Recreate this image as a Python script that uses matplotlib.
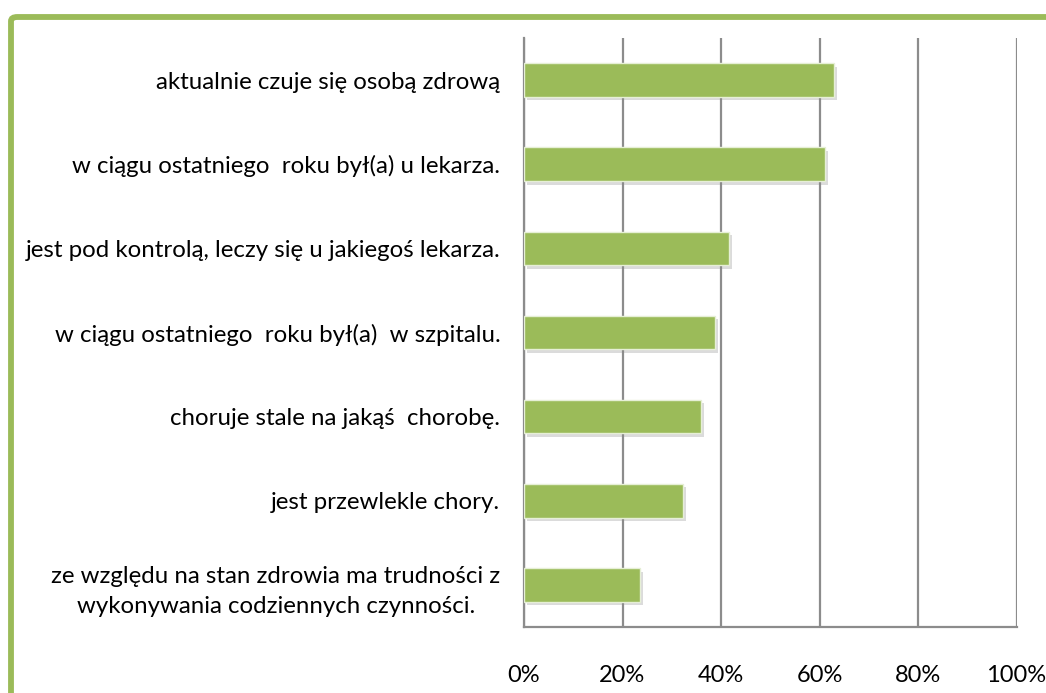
import matplotlib
matplotlib.use("Agg")
import matplotlib.pyplot as plt
from matplotlib.patches import FancyBboxPatch
import matplotlib.patheffects as pe

categories = [
    "aktualnie czuje się osobą zdrową",
    "w ciągu ostatniego  roku był(a) u lekarza.",
    "jest pod kontrolą, leczy się u jakiegoś lekarza.",
    "w ciągu ostatniego  roku był(a)  w szpitalu.",
    "choruje stale na jakąś  chorobę.",
    "jest przewlekle chory.",
    "ze względu na stan zdrowia ma trudności z\nwykonywania codziennych czynności.",
]
values = [62.9, 61.1, 41.6, 38.8, 35.9, 32.3, 23.6]
xticks = [0, 20, 40, 60, 80, 100]
xticklabels = ["0%", "20%", "40%", "60%", "80%", "100%"]

plt.rcParams['font.family'] = ['Lato', 'DejaVu Sans']

fig = plt.figure(figsize=(10.46, 6.93), dpi=100)
ax = fig.add_axes([524/1046, 1-627/693, (1016.5-524)/1046, (627-38)/693])

green = "#9BBB59"
n = len(categories)
ypos = list(range(n))[::-1]
bars = ax.barh(ypos, values, height=0.4, color=green, edgecolor="#e6efd6", linewidth=1.0, zorder=3)
for b in bars:
    b.set_path_effects([pe.SimplePatchShadow(offset=(2.0, -2.5), shadow_rgbFace="#8a8a8a", alpha=0.3), pe.Normal()])

ax.set_xlim(0, 100)
ax.set_ylim(-0.5, n - 0.5)
ax.set_xticks(xticks)
ax.set_xticklabels(xticklabels, fontsize=17)
ax.set_yticks(ypos)
ax.set_yticklabels(categories, fontsize=17.3, multialignment="center", linespacing=1.55)
ax.tick_params(axis="both", length=0, colors="black")
ax.tick_params(axis="x", pad=27)
ax.tick_params(axis="y", pad=17)
ax.xaxis.grid(True, color="#8c8c8c", linewidth=1.6, zorder=0)
ax.set_axisbelow(True)
for s in ["top", "right"]:
    ax.spines[s].set_visible(False)
for s in ["left", "bottom"]:
    ax.spines[s].set_color("#8c8c8c")
    ax.spines[s].set_linewidth(1.6)

frame = FancyBboxPatch((11/1046, -0.1), 1.2, 1 - 17/693 + 0.1,
                       boxstyle="round,pad=0,rounding_size=0.006",
                       transform=fig.transFigure, facecolor="none",
                       edgecolor=green, linewidth=4.2, clip_on=False)
fig.patches.append(frame)

fig.savefig("out.png", dpi=100)
